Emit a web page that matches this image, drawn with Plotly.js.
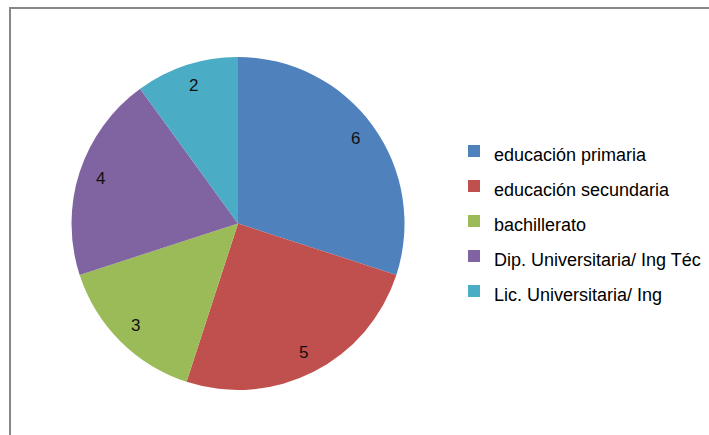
<!DOCTYPE html>
<html>
<head>
<meta charset="utf-8">
<script src="https://cdn.plot.ly/plotly-3.0.1.min.js"></script>
<style>
  html, body { margin: 0; padding: 0; background: #ffffff; }
  #chart { width: 709px; height: 435px; }
</style>
</head>
<body>
<div id="chart"></div>
<script>
// Data
const categories = [
  "educación primaria",
  "educación secundaria",
  "bachillerato",
  "Dip. Universitaria/ Ing Téc",
  "Lic. Universitaria/ Ing"
];
const values = [6, 5, 3, 4, 2];
const colors = ["#4F81BD", "#C0504D", "#9BBB59", "#8064A2", "#4BACC6"];

const W = 709, H = 435;
const cx = 238, cy = 223.5, R = 166.5;
const labelRadius = 0.87; // fraction of the pie radius where value labels sit

const domX = [(cx - R) / W, (cx + R) / W];
const domY = [1 - (cy + R) / H, 1 - (cy - R) / H];

// Legend labels drawn at 18px while the legend's own font sets the row pitch
const legendLabels = categories.map(c => '<span style="font-size:18px">' + c + '</span>');

const pie = {
  type: "pie",
  labels: legendLabels,
  values: values,
  sort: false,
  direction: "clockwise",
  rotation: 0,
  marker: { colors: colors, line: { width: 0 } },
  textinfo: "none",
  hoverinfo: "none",
  domain: { x: domX, y: domY }
};

// Value labels placed from each slice's mid-angle (clockwise from 12 o'clock),
// on a hidden [-1,1] axis pair that covers the pie's domain
const total = values.reduce((a, b) => a + b, 0);
let cum = 0;
const annotations = values.map(v => {
  const theta = (cum + v / 2) / total * 2 * Math.PI;
  cum += v;
  return {
    xref: "x", yref: "y",
    x: labelRadius * Math.sin(theta),
    y: labelRadius * Math.cos(theta),
    text: String(v),
    showarrow: false,
    xanchor: "center", yanchor: "middle",
    font: { family: "Liberation Sans, Arial, sans-serif", size: 17, color: "#111111" }
  };
});

const layout = {
  width: W,
  height: H,
  margin: { l: 0, r: 0, t: 0, b: 0, pad: 0 },
  paper_bgcolor: "#ffffff",
  plot_bgcolor: "rgba(0,0,0,0)",
  font: { family: "Liberation Sans, Arial, sans-serif", color: "#000000" },
  showlegend: true,
  xaxis: { domain: domX, range: [-1, 1], visible: false, fixedrange: true },
  yaxis: { domain: domY, range: [-1, 1], visible: false, fixedrange: true },
  annotations: annotations,
  legend: {
    x: 454 / W,
    xanchor: "left",
    y: 1 - 221 / H,
    yanchor: "middle",
    font: { family: "Liberation Sans, Arial, sans-serif", size: 24.6, color: "#000000" },
    bgcolor: "rgba(0,0,0,0)",
    borderwidth: 0
  },
  shapes: [{
    type: "rect",
    xref: "paper", yref: "paper",
    x0: 10 / W, x1: 1.05,
    y0: -0.05, y1: 1 - 8 / H,
    line: { color: "#878787", width: 2 },
    fillcolor: "rgba(0,0,0,0)",
    layer: "below"
  }]
};

Plotly.newPlot("chart", [pie], layout, { displayModeBar: false, staticPlot: true });
</script>
</body>
</html>
